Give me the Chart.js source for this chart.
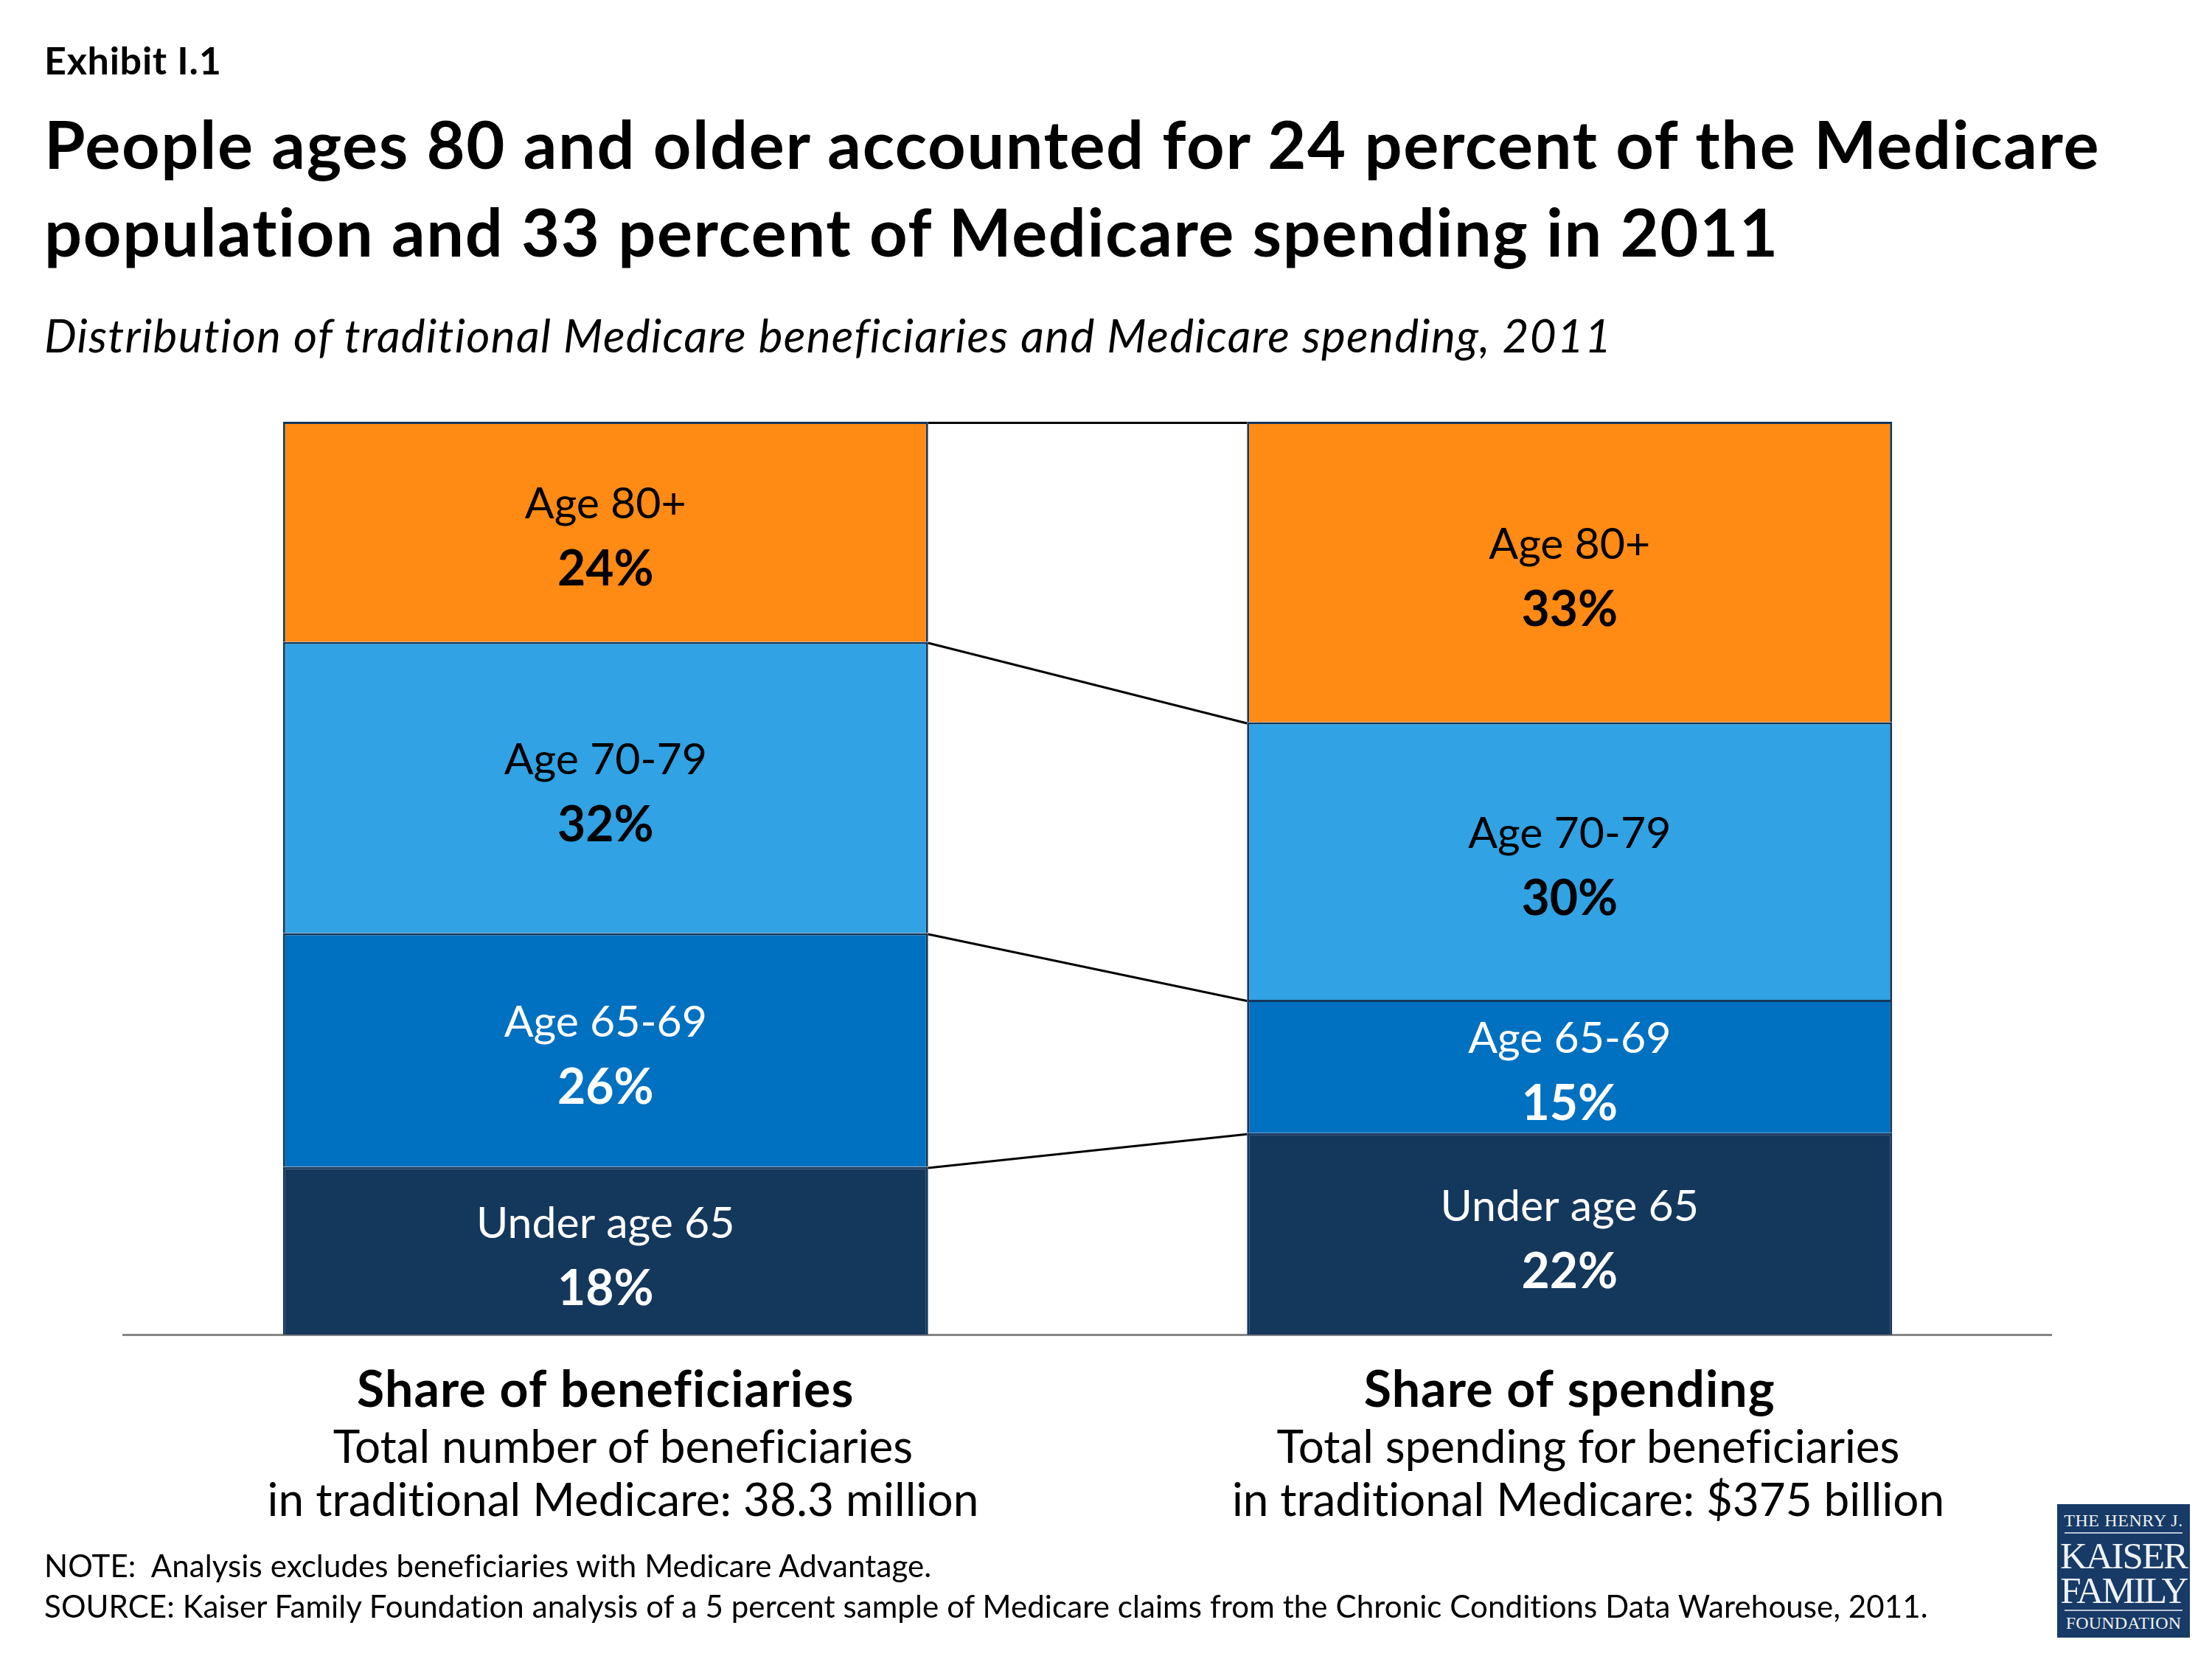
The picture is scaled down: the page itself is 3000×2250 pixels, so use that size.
<!DOCTYPE html>
<html><head><meta charset="utf-8">
<script src="https://cdn.jsdelivr.net/npm/chart.js@4"></script>
<style>
html,body{margin:0;padding:0;background:#fff;width:3000px;height:2250px;overflow:hidden}
body{position:relative;font-family:Lato,sans-serif;color:#000;font-variant-ligatures:none}
canvas{position:absolute;left:0;top:0}
.t{position:absolute;line-height:0;white-space:pre}
.c{text-align:center;width:1400px}
#logo{position:absolute;left:2790px;top:2040px;width:180px;height:181px;background:#173A66;color:#EEF1F5;font-family:"Liberation Serif",serif}
#logo div{position:absolute;left:0;width:180px;text-align:center;line-height:0;white-space:pre}
#logo i{position:absolute;left:10px;width:160px;height:2px;background:#B9C4D3}
</style></head><body>
<canvas id="c" width="3000" height="2250"></canvas>
<div class="t" style="left:60px;top:81px;font-size:52px;font-weight:700;letter-spacing:.76px">Exhibit I.1</div>
<div class="t" style="left:60px;top:194px;font-size:90px;font-weight:700;letter-spacing:1.65px">People ages 80 and older accounted for 24 percent of the Medicare</div>
<div class="t" style="left:60px;top:313px;font-size:90px;font-weight:700;letter-spacing:1.65px">population and 33 percent of Medicare spending in 2011</div>
<div class="t" style="left:60px;top:454px;font-size:62px;font-style:italic;letter-spacing:1.3px">Distribution of traditional Medicare beneficiaries and Medicare spending, 2011</div>
<div class="t c" style="left:145px;top:1960px;font-size:62px">Total number of beneficiaries</div>
<div class="t c" style="left:145px;top:2032px;font-size:62px;letter-spacing:.1px">in traditional Medicare: 38.3 million</div>
<div class="t c" style="left:1454px;top:1960px;font-size:62px">Total spending for beneficiaries</div>
<div class="t c" style="left:1454px;top:2032px;font-size:62px">in traditional Medicare: $375 billion</div>
<div class="t" style="left:60px;top:2123px;font-size:42px;letter-spacing:.1px">NOTE:  Analysis excludes beneficiaries with Medicare Advantage.</div>
<div class="t" style="left:60px;top:2178px;font-size:42px;letter-spacing:.1px">SOURCE: Kaiser Family Foundation analysis of a 5 percent sample of Medicare claims from the Chronic Conditions Data Warehouse, 2011.</div>
<div id="logo">
<div style="top:22px;font-size:24px;letter-spacing:.6px">THE HENRY J.</div>
<i style="top:38px"></i>
<div style="top:70px;font-size:51px;letter-spacing:-2px">KAISER</div>
<div style="top:117px;font-size:51px;letter-spacing:-2.5px">FAMILY</div>
<i style="top:143px"></i>
<div style="top:161px;font-size:24px;letter-spacing:.2px">FOUNDATION</div>
</div>
<script>
const categories = ["Share of beneficiaries", "Share of spending"];
const segments = ["Under age 65", "Age 65-69", "Age 70-79", "Age 80+"];
const beneficiaries = [18.4, 25.6, 31.9, 24.1];
const spending = [22.1, 14.6, 30.4, 32.9];
const fills = ["#14375C", "#0070C0", "#31A2E3", "#FF8A14"];
const textColors = ["#fff", "#fff", "#000", "#000"];
const edge = "#14375C";

const connectorsAndLabels = {
  id: "connectorsAndLabels",
  beforeDraw(chart) {
    chart.ctx.letterSpacing = "1.1px";
  },
  afterDatasetsDraw(chart) {
    const ctx = chart.ctx;
    ctx.save();
    ctx.letterSpacing = "0px";
    // connector lines between the two stacks
    ctx.strokeStyle = "#000";
    ctx.lineWidth = 3;
    segments.forEach((_, i) => {
      const [a, b] = chart.getDatasetMeta(i).data;
      ctx.beginPath();
      ctx.moveTo(a.x + a.width / 2, a.y + 1.5);
      ctx.lineTo(b.x - b.width / 2, b.y + 1.5);
      ctx.stroke();
    });
    // segment labels
    ctx.textAlign = "center";
    ctx.textBaseline = "alphabetic";
    segments.forEach((name, i) => {
      const ds = chart.data.datasets[i];
      chart.getDatasetMeta(i).data.forEach((bar, j) => {
        const mid = (bar.y + bar.base) / 2;
        ctx.fillStyle = textColors[i];
        ctx.font = "400 59px Lato";
        ctx.fillText(name, bar.x, mid - 18);
        ctx.font = "700 66px Lato";
        ctx.fillText(Math.round(ds.data[j]) + "%", bar.x, mid + 73);
      });
    });
    ctx.restore();
  }
};

new Chart(document.getElementById("c"), {
  type: "bar",
  data: {
    labels: categories,
    datasets: segments.map((name, i) => ({
      label: name,
      data: [beneficiaries[i], spending[i]],
      backgroundColor: fills[i],
      borderColor: edge,
      borderWidth: 3,
      borderSkipped: "bottom"
    }))
  },
  plugins: [connectorsAndLabels],
  options: {
    responsive: false,
    animation: false,
    devicePixelRatio: 1,
    layout: { padding: { left: 167.5, right: 217.5, top: 572, bottom: 0 } },
    datasets: { bar: { barPercentage: 875 / 1307.5, categoryPercentage: 1 } },
    plugins: { legend: { display: false }, title: { display: false }, tooltip: { enabled: false } },
    scales: {
      x: {
        stacked: true,
        grid: { display: false, drawTicks: false },
        border: { display: true, color: "#868686", width: 3 },
        ticks: { color: "#000", font: { family: "Lato", size: 68, weight: "700" }, padding: 35 },
        afterFit(s) { s.height = 439.5; }
      },
      y: { stacked: true, display: false, min: 0, max: 100 }
    }
  }
});
</script>
</body></html>
